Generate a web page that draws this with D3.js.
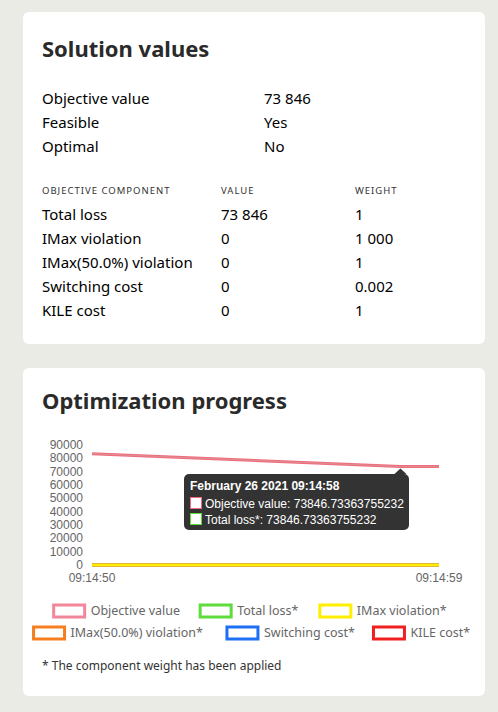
<!DOCTYPE html><html><head><meta charset="utf-8">
<script src="https://cdn.jsdelivr.net/npm/d3@7"></script>
<style>
body{margin:0;background:#ebebe6;font-family:"Noto Sans",sans-serif;color:#222;}
svg{display:block}
</style></head><body><svg id="c" width="498" height="712"></svg>
<script>
const summaryLabels=["Objective value","Feasible","Optimal"];
const summaryValues=["73 846","Yes","No"];
const compHeaders=["OBJECTIVE COMPONENT","VALUE","WEIGHT"];
const compNames=["Total loss","IMax violation","IMax(50.0%) violation","Switching cost","KILE cost"];
const compValues=["73 846","0","0","0","0"];
const compWeights=["1","1 000","1","0.002","1"];
const times=["09:14:50","09:14:58","09:14:59"];
const objective=[83500,73846.73,73846.73];
const totalLoss=[83500,73846.73,73846.73];
const zeros=[0,0,0];
const seriesNames=["Objective value","Total loss*","IMax violation*","IMax(50.0%) violation*","Switching cost*","KILE cost*"];
const seriesColors=["#f06a84","#5ddc3c","#ffee00","#f57f20","#1f6ff5","#f02020"];
const yTicks=[0,10000,20000,30000,40000,50000,60000,70000,80000,90000];

const svg=d3.select("#c");
svg.append("rect").attr("x",23).attr("y",12).attr("width",462).attr("height",332).attr("rx",6).attr("fill","#fff");
svg.append("rect").attr("x",23).attr("y",368).attr("width",462).attr("height",328).attr("rx",6).attr("fill","#fff");
svg.append("text").attr("x",42).attr("y",57).attr("font-size",22).attr("font-weight",700).attr("fill","#2a2a2a").text("Solution values");
summaryLabels.forEach((l,i)=>{
 svg.append("text").attr("x",42).attr("y",104+i*24).attr("font-size",15).text(l);
 svg.append("text").attr("x",264).attr("y",104+i*24).attr("font-size",15).text(summaryValues[i]);
});
const hx=[42,221,355];
compHeaders.forEach((h,i)=>svg.append("text").attr("x",hx[i]).attr("y",194).attr("font-size",9.5).attr("letter-spacing",1).attr("fill","#333").text(h));
compNames.forEach((n,i)=>{
 const y=220+i*24;
 svg.append("text").attr("x",42).attr("y",y).attr("font-size",15).text(n);
 svg.append("text").attr("x",221).attr("y",y).attr("font-size",15).text(compValues[i]);
 svg.append("text").attr("x",355).attr("y",y).attr("font-size",15).text(compWeights[i]);
});
svg.append("text").attr("x",42).attr("y",409).attr("font-size",22).attr("font-weight",700).attr("fill","#2a2a2a").text("Optimization progress");

const parse=d3.timeParse("%H:%M:%S");
const td=times.map(parse);
const x=d3.scaleTime().domain([td[0],td[2]]).range([92,439]);
const y=d3.scaleLinear().domain([0,90000]).range([565,445]);
const g=svg.append("g").attr("font-family","Arial, Liberation Sans, sans-serif");
yTicks.forEach(t=>g.append("text").attr("x",83).attr("y",y(t)+4).attr("text-anchor","end").attr("font-size",12).attr("fill","#666").text(t));
[td[0],td[2]].forEach(t=>g.append("text").attr("x",x(t)).attr("y",582).attr("text-anchor","middle").attr("font-size",12).attr("fill","#666").text(d3.timeFormat("%H:%M:%S")(t)));
const line=d3.line().x((d,i)=>x(td[i])).y(d=>y(d));
const series=[objective,totalLoss,zeros,zeros,zeros,zeros];
[5,4,3,2,1,0].forEach(k=>{
 if(k===1) return;
 g.append("path").attr("d",line(series[k])).attr("fill","none").attr("stroke",seriesColors[k]).attr("stroke-width",3);
});
g.append("path").attr("d",line(totalLoss)).attr("fill","none").attr("stroke","#c9b98a").attr("stroke-width",1).attr("opacity",0.5);
// tooltip
const tx=x(td[1]);
const ty=y(73846.73);
const tt=g.append("g");
tt.append("rect").attr("x",184).attr("y",474).attr("width",225).attr("height",56).attr("rx",5).attr("fill","#333");
tt.append("path").attr("d",`M${tx-6},474 L${tx},${ty+2} L${tx+6},474 Z`).attr("fill","#333");
tt.append("text").attr("x",190).attr("y",490).attr("font-size",12).attr("font-weight",700).attr("fill","#fff").text("February 26 2021 09:14:58");
[["Objective value: 73846.73363755232",0],["Total loss*: 73846.73363755232",1]].forEach(([s,k],i)=>{
 tt.append("rect").attr("x",190.5).attr("y",497.5+i*16).attr("width",11).attr("height",11).attr("fill","#fff").attr("stroke",seriesColors[k]);
 tt.append("text").attr("x",205).attr("y",508+i*16).attr("font-size",12).attr("fill","#fff").text(s);
});
// legend
const rows=[[0,1,2],[3,4,5]];
const lg=svg.append("g");
const rowY=[610,632];
rows.forEach((r,ri)=>{
 const widths=r.map(k=>46+seriesNames[k].length*6.7);
 const total=d3.sum(widths)-10;
 let cx=254-total/2;
 r.forEach((k,j)=>{
  lg.append("rect").attr("x",cx+1).attr("y",rowY[ri]-5).attr("width",31).attr("height",12).attr("fill","#fff").attr("stroke",seriesColors[k]).attr("stroke-width",3).attr("opacity",k===0?0.8:1);
  lg.append("text").attr("x",cx+38).attr("y",rowY[ri]+5).attr("font-size",12.5).attr("fill","#666").text(seriesNames[k]);
  cx+=widths[j];
 });
});
svg.append("text").attr("x",42).attr("y",670).attr("font-size",12).attr("fill","#333").text("* The component weight has been applied");
</script></body></html>
